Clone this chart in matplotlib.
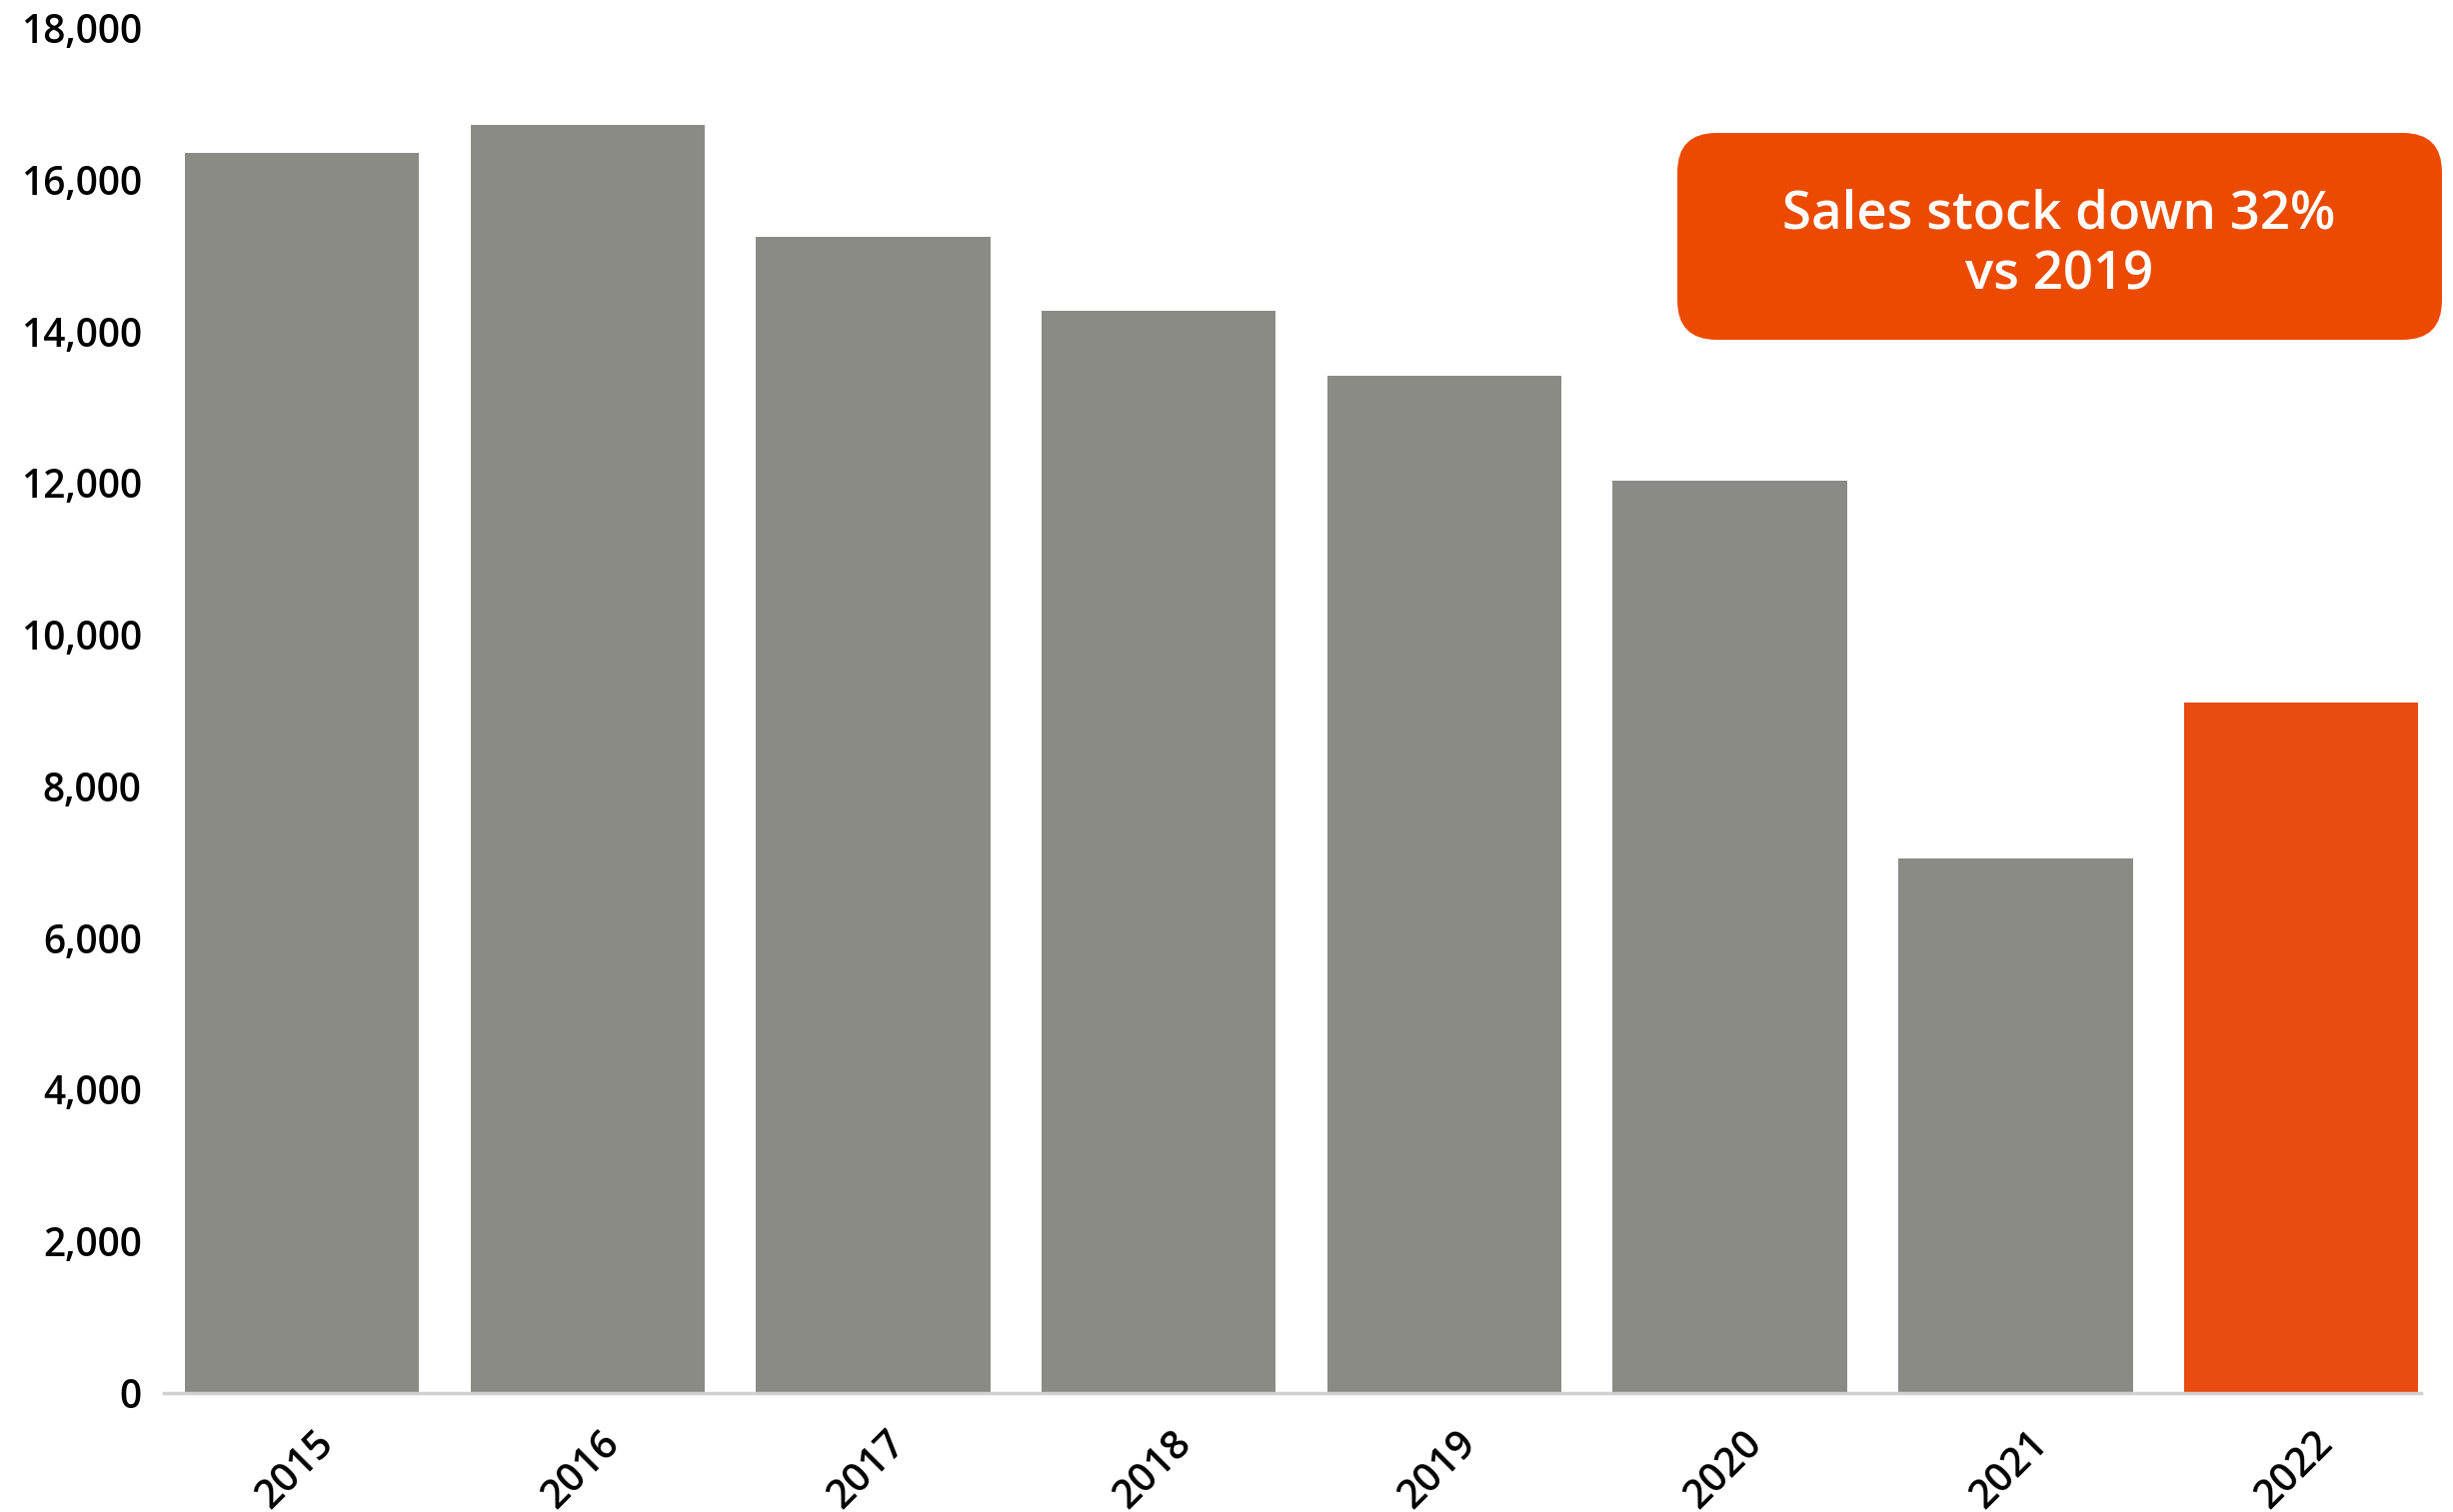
import numpy as np
import matplotlib
matplotlib.use("Agg")
import matplotlib.pyplot as plt
import matplotlib.transforms as mtrans
from matplotlib.patches import FancyBboxPatch

plt.rcParams['font.family'] = ['Open Sans', 'DejaVu Sans']
plt.rcParams['font.weight'] = 'semibold'

# data
years = ['2015', '2016', '2017', '2018', '2019', '2020', '2021', '2022']
stock = [16350, 16720, 15240, 14270, 13420, 12030, 7050, 9100]
yticks = [0, 2000, 4000, 6000, 8000, 10000, 12000, 14000, 16000, 18000]

grey = '#8B8B86'
orange = '#E84C0E'
cols = [grey] * 7 + [orange]

fig = plt.figure(figsize=(24.54, 15.13), dpi=100)
ax = fig.add_axes([0.0668, 0.0787, 0.9202, 0.9028])

x = np.arange(len(years))
ax.bar(x, stock, width=0.82, color=cols)

ax.set_ylim(0, 18000)
ax.set_xlim(-0.483, 7.42)
ax.set_yticks(yticks)
ax.set_yticklabels([f'{v:,}' for v in yticks], fontsize=28, fontweight='semibold')
ax.set_xticks(x)
ax.set_xticklabels(years, fontsize=29, fontweight='semibold', rotation=45,
                   ha='right', rotation_mode='anchor')
ax.tick_params(axis='both', length=0)
ax.tick_params(axis='y', pad=16)
ax.tick_params(axis='x', pad=22)

# shift the rotated year labels a bit right
off = mtrans.ScaledTranslation(9 / 72, 0, fig.dpi_scale_trans)
for lab in ax.get_xticklabels():
    lab.set_transform(lab.get_transform() + off)

for s in ['top', 'right', 'left']:
    ax.spines[s].set_visible(False)
ax.spines['bottom'].set_color('#D0D0D0')
ax.spines['bottom'].set_linewidth(2.5)

# callout box
box = FancyBboxPatch((0.6838, 0.7753), 0.3117, 0.1368,
                     boxstyle='round,pad=0,rounding_size=0.016',
                     mutation_aspect=2454 / 1513,
                     transform=fig.transFigure, facecolor='#EC4A00',
                     edgecolor='none')
fig.patches.append(box)
fig.text(0.8395, 0.838, 'Sales stock down 32%\nvs 2019', color='white',
         fontsize=38, fontweight='semibold', ha='center', va='center',
         linespacing=1.2)

fig.savefig('out.png', dpi=100)
